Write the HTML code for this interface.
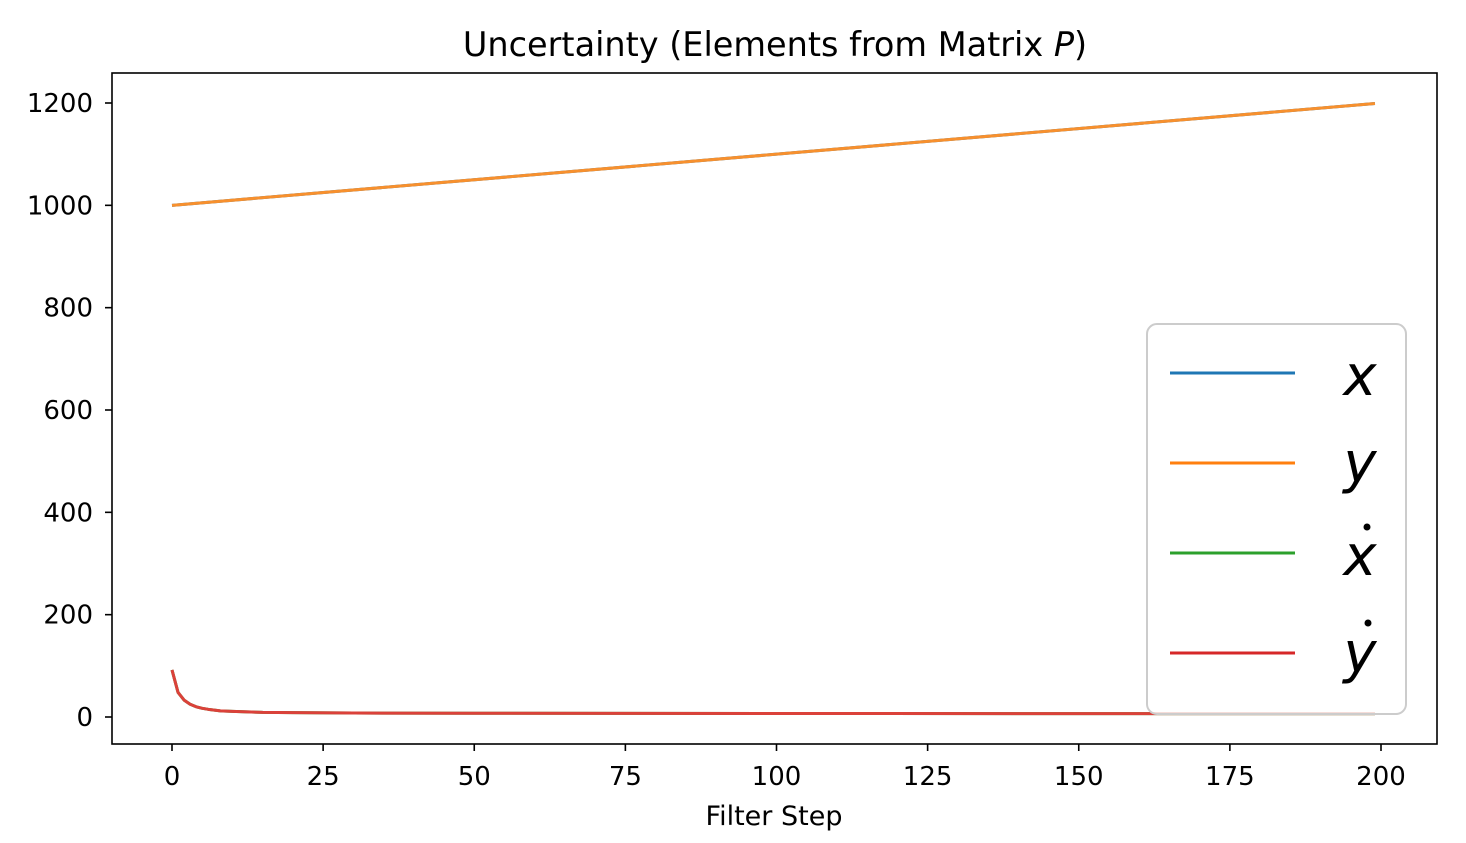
<!DOCTYPE html>
<html><head><meta charset="utf-8"><style>
body{margin:0;background:#fff;font-family:"Liberation Sans","DejaVu Sans",sans-serif}
</style></head><body>
<svg width="1466" height="838" xmlns="http://www.w3.org/2000/svg">
<text x="775" y="56" text-anchor="middle" font-size="33.5" font-family="DejaVu Sans, sans-serif">Uncertainty (Elements from Matrix <tspan font-style="italic">P</tspan>)</text>
<g id="ticks"></g>
<g id="series"></g>
<rect x="112" y="73" width="1325" height="671" fill="none" stroke="#000" stroke-width="1.6"/>
<text x="774" y="825" text-anchor="middle" font-size="27" font-family="DejaVu Sans, sans-serif">Filter Step</text>
<g>
<rect x="1147" y="324" width="259" height="390" rx="10" fill="#fff" fill-opacity="0.8" stroke="#ccc" stroke-width="2"/>
<g><line x1="1170" x2="1295" y1="373" y2="373" stroke="#1f77b4" stroke-width="3"/><text x="1360" y="395" text-anchor="middle" font-size="56" font-style="italic" font-family="DejaVu Sans, sans-serif">x</text></g>
<g><line x1="1170" x2="1295" y1="463" y2="463" stroke="#ff7f0e" stroke-width="3"/><text x="1360" y="482" text-anchor="middle" font-size="56" font-style="italic" font-family="DejaVu Sans, sans-serif">y</text></g>
<g><line x1="1170" x2="1295" y1="553" y2="553" stroke="#2ca02c" stroke-width="3"/><text x="1360" y="575" text-anchor="middle" font-size="56" font-style="italic" font-family="DejaVu Sans, sans-serif">x</text><circle cx="1367" cy="527" r="3.5" fill="#000"/></g>
<g><line x1="1170" x2="1295" y1="653" y2="653" stroke="#d62728" stroke-width="3"/><text x="1360" y="672" text-anchor="middle" font-size="56" font-style="italic" font-family="DejaVu Sans, sans-serif">y</text><circle cx="1368" cy="623" r="3.5" fill="#000"/></g>
</g>
</svg>
<script>
const xTicks=[0,25,50,75,100,125,150,175,200];
const yTicks=[0,200,400,600,800,1000,1200];
const posSteps=[0,199];
const posX=[1000,1199];
const posY=[1000,1199];
const velSteps=[0,1,2,3,4,5,6,8,10,15,20,30,50,100,150,199];
const velX=[92,48,33,25,20,17,15,12,11,9,8.5,7.8,7.3,6.8,6.6,6.5];
const velY=[92,48,33,25,20,17,15,12,11,9,8.5,7.8,7.3,6.8,6.6,6.5];
const sx=v=>172+v*(1381-172)/200;
const sy=v=>717-v*(717-103)/1200;
const NS="http://www.w3.org/2000/svg";
const tg=document.getElementById('ticks'),sg=document.getElementById('series');
function mk(t,a,p){const e=document.createElementNS(NS,t);for(const k in a)e.setAttribute(k,a[k]);p.appendChild(e);return e;}
xTicks.forEach(t=>{
 const l=mk('line',{x1:sx(t),x2:sx(t),y1:744,y2:751,stroke:'#000','stroke-width':1.6},tg);
 
 
 const tx=mk('text',{x:sx(t),y:785,'text-anchor':'middle','font-size':26,'font-family':'DejaVu Sans, sans-serif'},tg);tx.textContent=t;
 
 
});
yTicks.forEach(t=>{
 const l=mk('line',{x1:105,x2:112,y1:sy(t),y2:sy(t),stroke:'#000','stroke-width':1.6},tg);
 
 
 const tx=mk('text',{x:93,y:sy(t)+9,'text-anchor':'end','font-size':26,'font-family':'DejaVu Sans, sans-serif'},tg);tx.textContent=t;
 
 
});
function line(xs,ys,c,n){
 const p=mk('polyline',{points:xs.map((s,i)=>sx(s)+','+sy(ys[i])).join(' '),fill:'none',stroke:c,'stroke-width':3,'stroke-linejoin':'round'},sg);
 
 
}
line(posSteps,posX,'#1f77b4','series-x');
line(posSteps,posY,'#f7902e','series-y');
line(velSteps,velX,'#2ca02c','series-xdot');
line(velSteps,velY,'#db413a','series-ydot');
</script>
</body></html>
